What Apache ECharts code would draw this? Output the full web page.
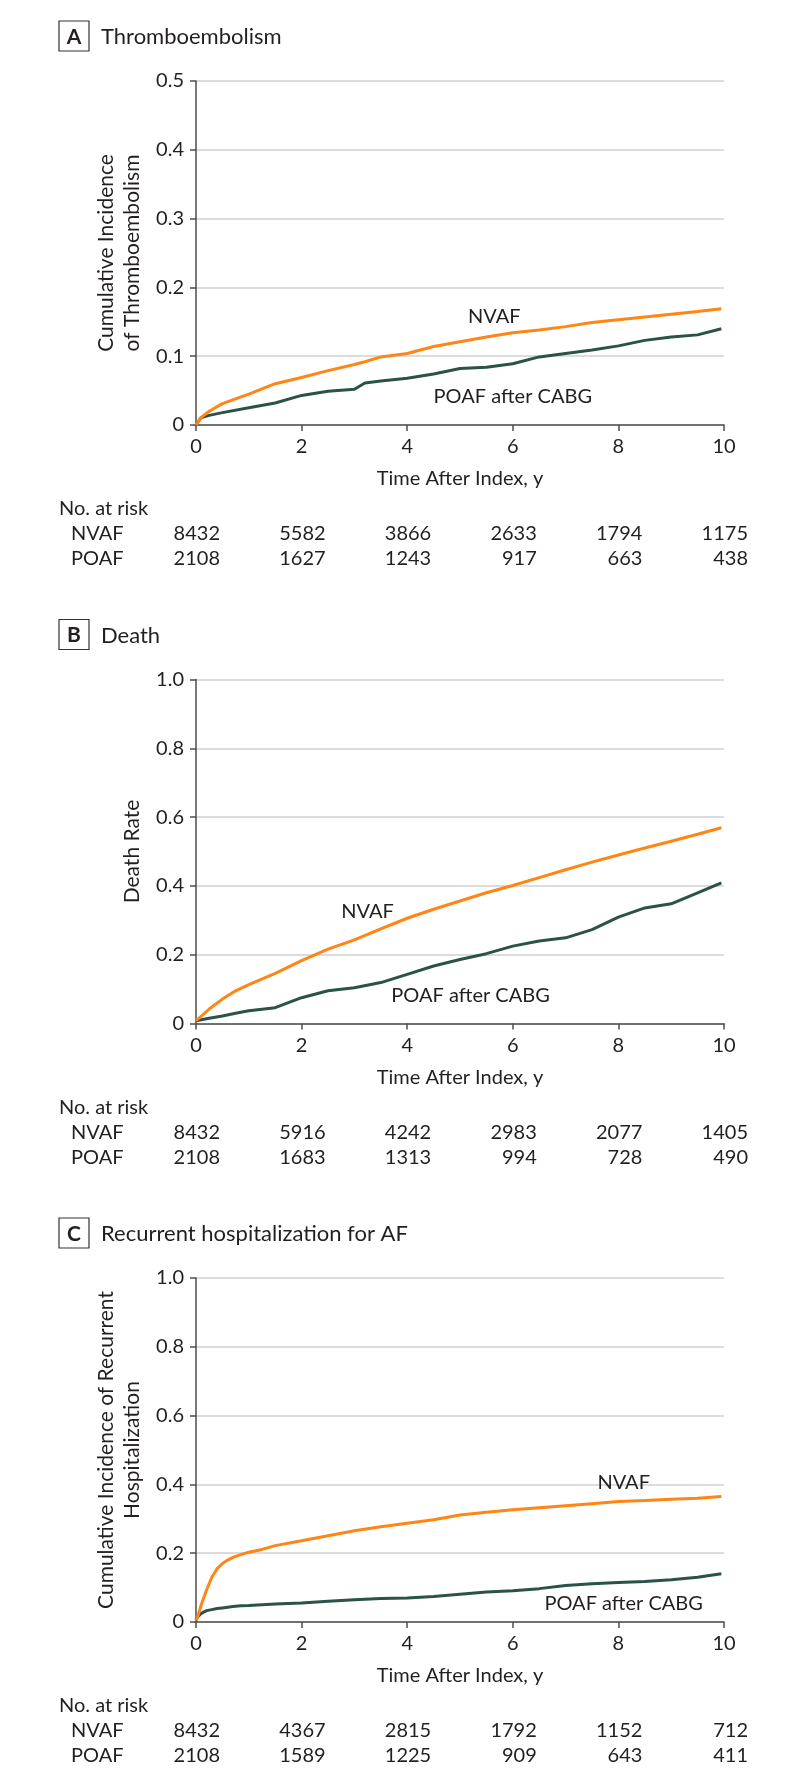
<!DOCTYPE html>
<html>
<head>
<meta charset="utf-8">
<script src="https://cdn.jsdelivr.net/npm/echarts@6/dist/echarts.min.js"></script>
<style>
  html, body { margin: 0; padding: 0; background: #fff; }
  #chart { width: 794px; height: 1784px; }
</style>
</head>
<body>
<div id="chart"></div>
<script>
// time after index (y) and cumulative values
const timeA = [0, 0.1, 0.25, 0.5, 1, 1.5, 2, 2.5, 3, 3.2, 3.5, 4, 4.5, 5, 5.5, 6, 6.5, 7, 7.5, 8, 8.5, 9, 9.5, 9.95]
const nvafA = [0, 0.011, 0.02, 0.031, 0.045, 0.06, 0.069, 0.079, 0.088, 0.092, 0.099, 0.104, 0.114, 0.121, 0.128, 0.134, 0.138, 0.143, 0.149, 0.153, 0.157, 0.161, 0.165, 0.169]
const poafA = [0, 0.011, 0.014, 0.018, 0.025, 0.032, 0.043, 0.049, 0.052, 0.061, 0.064, 0.068, 0.074, 0.082, 0.084, 0.089, 0.099, 0.104, 0.109, 0.115, 0.123, 0.128, 0.131, 0.14]

const timeB = [0, 0.25, 0.5, 0.75, 1, 1.5, 2, 2.5, 3, 3.5, 4, 4.5, 5, 5.5, 6, 6.5, 7, 7.5, 8, 8.5, 9, 9.5, 9.95]
const nvafB = [0.008, 0.042, 0.071, 0.095, 0.113, 0.146, 0.183, 0.216, 0.243, 0.275, 0.306, 0.332, 0.356, 0.38, 0.401, 0.424, 0.447, 0.469, 0.49, 0.51, 0.53, 0.55, 0.569]
const poafB = [0.008, 0.015, 0.022, 0.03, 0.037, 0.046, 0.075, 0.095, 0.104, 0.119, 0.143, 0.167, 0.186, 0.203, 0.225, 0.24, 0.249, 0.273, 0.309, 0.336, 0.348, 0.38, 0.409]

const timeC = [0, 0.03, 0.1, 0.2, 0.3, 0.4, 0.5, 0.6, 0.7, 0.85, 1, 1.25, 1.5, 2, 2.5, 3, 3.5, 4, 4.5, 5, 5.5, 6, 6.5, 7, 7.5, 8, 8.5, 9, 9.5, 9.95]
const nvafC = [0.005, 0.015, 0.05, 0.093, 0.13, 0.155, 0.17, 0.18, 0.188, 0.196, 0.203, 0.211, 0.222, 0.236, 0.251, 0.265, 0.277, 0.287, 0.297, 0.311, 0.319, 0.326, 0.332, 0.338, 0.344, 0.35, 0.353, 0.357, 0.36, 0.365]
const poafC = [0.005, 0.015, 0.025, 0.033, 0.036, 0.039, 0.041, 0.043, 0.045, 0.047, 0.048, 0.05, 0.052, 0.055, 0.06, 0.065, 0.068, 0.07, 0.074, 0.081, 0.087, 0.091, 0.097, 0.106, 0.111, 0.115, 0.118, 0.123, 0.13, 0.14]

// number at risk table
const riskTimes = [0, 2, 4, 6, 8, 10]
const riskNvafA = [8432, 5582, 3866, 2633, 1794, 1175]
const riskPoafA = [2108, 1627, 1243, 917, 663, 438]
const riskNvafB = [8432, 5916, 4242, 2983, 2077, 1405]
const riskPoafB = [2108, 1683, 1313, 994, 728, 490]
const riskNvafC = [8432, 4367, 2815, 1792, 1152, 712]
const riskPoafC = [2108, 1589, 1225, 909, 643, 411]

const panelLetters = ['A', 'B', 'C']
const panelTitles = ['Thromboembolism', 'Death', 'Recurrent hospitalization for AF']
const yTitles = [
  'Cumulative Incidence\nof Thromboembolism',
  'Death Rate',
  'Cumulative Incidence of Recurrent\nHospitalization'
]
const yMax = [0.5, 1, 1]
const yStep = [0.1, 0.2, 0.2]

const ORANGE = '#FF8514'
const TEAL = '#2B5249'
const TEXT = '#231F20'
const FONT = 'Lato'

const panels = [
  { time: timeA, nvaf: nvafA, poaf: poafA, riskN: riskNvafA, riskP: riskPoafA,
    nvafLabel: [5.65, 0.158], poafLabel: [6.0, 0.042] },
  { time: timeB, nvaf: nvafB, poaf: poafB, riskN: riskNvafB, riskP: riskPoafB,
    nvafLabel: [3.25, 0.325], poafLabel: [5.2, 0.082] },
  { time: timeC, nvaf: nvafC, poaf: poafC, riskN: riskNvafC, riskP: riskPoafC,
    nvafLabel: [8.1, 0.406], poafLabel: [8.1, 0.055] }
]

const PANEL_STEP = 598.5
const GRID_TOP = 81

const pairs = (t, v) => t.map((x, i) => [x, v[i]])

const buildOption = () => {
  const grid = [], xAxis = [], yAxis = [], series = []
  panels.forEach((p, i) => {
    grid.push({ left: 196, width: 528, top: GRID_TOP + i * PANEL_STEP, height: 344 })
    xAxis.push({
      type: 'value', gridIndex: i, min: 0, max: 10, interval: 2,
      name: 'Time After Index, y', nameLocation: 'middle', nameGap: 44,
      nameTextStyle: { fontFamily: FONT, fontSize: 20, color: TEXT },
      axisLine: { lineStyle: { color: '#4d4d4d', width: 1.5 } },
      axisTick: { length: 6, lineStyle: { color: '#4d4d4d', width: 1.5 } },
      axisLabel: { fontFamily: FONT, fontSize: 20, color: TEXT, margin: 12 },
      splitLine: { show: false }
    })
    yAxis.push({
      type: 'value', gridIndex: i, min: 0, max: yMax[i], interval: yStep[i],
      name: yTitles[i], nameLocation: 'middle', nameGap: 45,
      nameTextStyle: { fontFamily: FONT, fontSize: 21, color: TEXT, lineHeight: 26 },
      axisLine: { show: true, lineStyle: { color: '#4d4d4d', width: 1.5 } },
      axisTick: { show: true, length: 6, lineStyle: { color: '#4d4d4d', width: 1.5 } },
      axisLabel: {
        fontFamily: FONT, fontSize: 20, color: TEXT, margin: 12,
        formatter: v => (v === 0 ? '0' : v.toFixed(1))
      },
      splitLine: { show: true, lineStyle: { color: '#dcdcdc', width: 2 } }
    })
    series.push({
      type: 'line', xAxisIndex: i, yAxisIndex: i, showSymbol: false, silent: true,
      data: pairs(p.time, p.poaf), lineStyle: { color: TEAL, width: 3 }, z: 3
    })
    series.push({
      type: 'line', xAxisIndex: i, yAxisIndex: i, showSymbol: false, silent: true,
      data: pairs(p.time, p.nvaf), lineStyle: { color: ORANGE, width: 3 }, z: 4
    })
  })
  return { animation: false, grid, xAxis, yAxis, series }
}

const chart = echarts.init(document.getElementById('chart'), null, { renderer: 'canvas' })
chart.setOption(buildOption())

/**
 * 패널 제목, 곡선 라벨, No. at risk 표를 graphic 으로 추가
 */
const textEl = (x, y, text, extra) => ({
  type: 'text', x, y, silent: true,
  style: Object.assign({ text, fontFamily: FONT, fontSize: 20, fill: TEXT,
    verticalAlign: 'middle', align: 'left' }, extra || {})
})

const graphics = []
panels.forEach((p, i) => {
  const off = i * PANEL_STEP
  // panel letter box + title
  graphics.push({
    type: 'rect', silent: true,
    shape: { x: 59, y: 21 + off, width: 30, height: 30 },
    style: { fill: '#fff', stroke: '#333', lineWidth: 1.2 }
  })
  graphics.push(textEl(74, 37 + off, panelLetters[i], { align: 'center', fontWeight: 'bold', fontSize: 21 }))
  graphics.push(textEl(101, 37 + off, panelTitles[i], { fontSize: 22 }))

  // curve labels, placed in data coordinates
  const toPx = d => chart.convertToPixel({ xAxisIndex: i, yAxisIndex: i }, d)
  const nl = toPx(p.nvafLabel), pl = toPx(p.poafLabel)
  graphics.push(textEl(nl[0], nl[1], 'NVAF', { align: 'center' }))
  graphics.push(textEl(pl[0], pl[1], 'POAF after CABG', { align: 'center' }))

  // number at risk
  const base = chart.convertToPixel({ xAxisIndex: i, yAxisIndex: i }, [0, 0])[1]
  graphics.push(textEl(59, base + 84, 'No. at risk'))
  graphics.push(textEl(71, base + 109, 'NVAF'))
  graphics.push(textEl(71, base + 134, 'POAF'))
  riskTimes.forEach((t, k) => {
    const x = chart.convertToPixel({ xAxisIndex: i }, t) + 24
    graphics.push(textEl(x, base + 109, String(p.riskN[k]), { align: 'right' }))
    graphics.push(textEl(x, base + 134, String(p.riskP[k]), { align: 'right' }))
  })
})

chart.setOption({ graphic: graphics })
</script>
</body>
</html>
